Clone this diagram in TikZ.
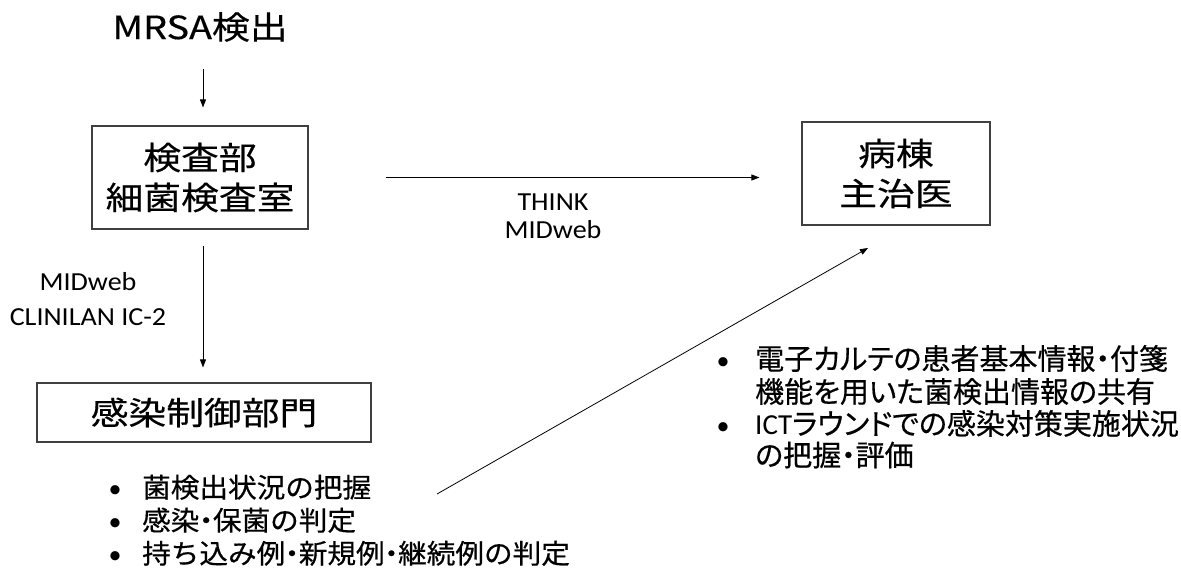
\documentclass[tikz,border=0pt]{standalone}
\usepackage{fontspec}
\usetikzlibrary{arrows.meta}
\setmainfont[FakeStretch=1.08]{Carlito}
\newfontfamily\latn{Carlito}
\newfontfamily\jpbox[FakeStretch=1.18,FakeBold=0.4]{Noto Sans CJK JP}
\newfontfamily\jplist[FakeStretch=1.06,FakeBold=0.5]{Noto Sans CJK JP}
\newfontfamily\jpright[RawFeature={+palt},FakeBold=0.5]{Noto Sans CJK JP}
\newcommand{\dt}{\makebox[0.5em][c]{・}}
\tikzset{
  box/.style={draw=black!75, line width=1.1pt, align=center, inner sep=0pt,
    font=\jpbox\fontsize{32}{40}\selectfont},
  arr/.style={line width=0.8pt, -{Triangle[length=8pt,width=6pt]}},
  lbl/.style={align=center, font=\fontsize{26}{28}\selectfont, inner sep=0pt},
  item/.style={anchor=base west, inner sep=0pt, font=\jplist\fontsize{27}{33}\selectfont},
  ritem/.style={anchor=base west, inner sep=0pt, font=\jpright\fontsize{29}{33}\selectfont},
}
\newcommand{\bul}[1]{\makebox[#1][l]{\hspace*{1pt}{\latn\fontsize{26}{26}\selectfont •}}}
\begin{document}
\begin{tikzpicture}[x=1pt,y=-1pt]
\useasboundingbox (0,0) rectangle (1181,575);
\fill[white] (0,0) rectangle (1181,575);

\node[inner sep=0pt, font=\jpbox\fontsize{32}{40}\selectfont] (mrsa) at (200,27) {MRSA検出};

\node[box, minimum width=216pt, minimum height=103pt] (kensa) at (200,177.5) {検査部\\細菌検査室};
\node[box, minimum width=188pt, minimum height=103pt] (byoto) at (896,173.5) {病棟\\主治医};
\node[box, minimum width=334pt, minimum height=59pt] (kansen) at (204,412.5) {感染制御部門};

\node[lbl] (think) at (553,216) {THINK\\MIDweb};
\node[lbl, font=\fontsize{26}{35}\selectfont] (midweb) at (88,299.5) {MIDweb\\CLINILAN IC-2};

\draw[arr, shorten <=27pt, shorten >=18pt] ([xshift=3pt]kensa.north |- mrsa.south) -- ([xshift=3pt]kensa.north);
\draw[arr, shorten <=16pt, shorten >=15pt] ([xshift=3pt]kensa.south) -- ([xshift=3pt]kansen.north -| kensa.south);
\draw[arr, shorten <=77pt, shorten >=42pt] (kensa.east) -- (kensa.east -| byoto.west);

\node[item] (l1) at (107.5,497.5) {\bul{34.5pt}菌検出状況の把握};
\node[item] (l2) at (107.5,530.5) {\bul{34.5pt}感染\dt 保菌の判定};
\node[item] (l3) at (107.5,563.5) {\bul{34.5pt}持ち込み例\dt 新規例\dt 継続例の判定};

\node[ritem] (r1) at (715.5,369.5) {\bul{39.5pt}電子カルテの患者基本情報\dt 付箋};
\node[ritem] (r2) at (755,402.5) {機能を用いた菌検出情報の共有};
\node[ritem] (r3) at (715.5,434.5) {\bul{39.5pt}{\latn ICT}ラウンドでの感染対策実施状況};
\node[ritem] (r4) at (755,466) {の把握\dt 評価};

\coordinate (dstart) at (437,494);
\coordinate (dend) at (868,248);
\draw[arr] (dstart) -- (dend);
\end{tikzpicture}
\end{document}
